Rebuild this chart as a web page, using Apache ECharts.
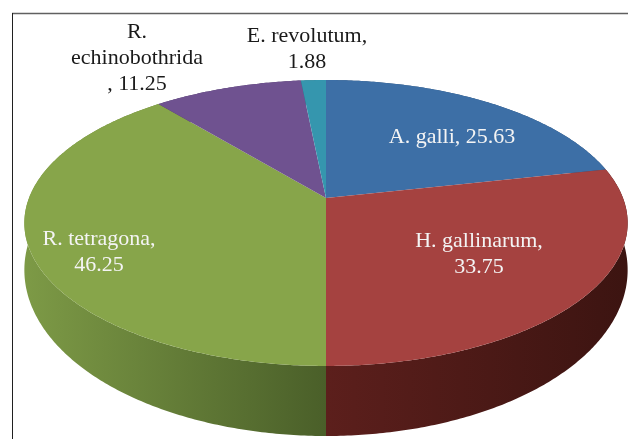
<!DOCTYPE html>
<html>
<head>
<meta charset="utf-8">
<style>
  html, body { margin: 0; padding: 0; background: #fff; }
  #main { width: 628px; height: 439px; filter: blur(0.5px); }
</style>
<script src="https://cdn.jsdelivr.net/npm/echarts@6/dist/echarts.min.js"></script>
</head>
<body>
<div id="main"></div>
<script>
// 数据
const names = ['A. galli', 'H. gallinarum', 'R. tetragona', 'R. echinobothrida', 'E. revolutum']
const values = [25.63, 33.75, 46.25, 11.25, 1.88]

const faceColors = ['#3d6fa6', '#a54240', '#87a54a', '#6f5290', '#3596ae']
// side wall gradient, left to right. only the two front slices are really seen
const wallColors = [
  ['#2a4d75', '#2a4d75'],
  ['#5c1f1c', '#3c1411'],
  ['#7d9a46', '#4a5f29'],
  ['#4d3965', '#4d3965'],
  ['#256a7a', '#256a7a']
]

// label place and line breaks, one per slice
const labelLayout = [
  { x: 452, y: 137, fill: '#f4f4f4', text: (n, v) => n + ', ' + v },
  { x: 479, y: 254, fill: '#f4f4f4', text: (n, v) => n + ',\n' + v },
  { x: 99, y: 252, fill: '#f4f4f4', text: (n, v) => n + ',\n' + v },
  { x: 137, y: 58, fill: '#1a1a1a', text: (n, v) => n.replace(' ', '\n') + '\n, ' + v },
  { x: 307, y: 49, fill: '#1a1a1a', text: (n, v) => n + ',\n' + v }
]

// perspective disc: top face and bottom rim of the pie
const topDisc = { cx: 326, cy: 198, a: 138.6, b: 297, k: -0.1748 }
const bottomDisc = { cx: 326, cy: 241, a: 160.9, b: 297, k: -0.1748 }

const total = values.reduce((s, v) => s + v, 0)

function sliceAngles(i) {
  let before = 0
  for (let j = 0; j < i; j++) before += values[j]
  return [before / total * Math.PI * 2, (before + values[i]) / total * Math.PI * 2]
}

// angle is clockwise from 12 o'clock
function project(disc, angle, r) {
  let x = Math.sin(angle) * r
  let y = -Math.cos(angle) * r
  let d = 1 + disc.k * y
  return [disc.cx + disc.b * x / d, disc.cy + disc.a * y / d]
}

function arcPoints(disc, start, end) {
  let pts = []
  let steps = Math.max(2, Math.ceil((end - start) / 0.01))
  for (let s = 0; s <= steps; s++) {
    pts.push(project(disc, start + (end - start) * s / steps, 1))
  }
  return pts
}

function renderWall(params) {
  let [start, end] = sliceAngles(params.dataIndex)
  let pts = arcPoints(topDisc, start, end).concat(arcPoints(bottomDisc, start, end).reverse())
  let c = wallColors[params.dataIndex]
  return {
    type: 'polygon',
    shape: { points: pts },
    style: {
      fill: new echarts.graphic.LinearGradient(0, 0, 1, 0, [
        { offset: 0, color: c[0] },
        { offset: 1, color: c[1] }
      ])
    }
  }
}

function renderFace(params) {
  let [start, end] = sliceAngles(params.dataIndex)
  let pts = [project(topDisc, 0, 0)].concat(arcPoints(topDisc, start, end))
  return {
    type: 'polygon',
    shape: { points: pts },
    style: { fill: faceColors[params.dataIndex] }
  }
}

function renderLabel(params, api) {
  let i = params.dataIndex
  let l = labelLayout[i]
  return {
    type: 'text',
    x: l.x,
    y: l.y,
    style: {
      text: l.text(names[i], api.value(0).toFixed(2)),
      fill: l.fill,
      font: '22px "Liberation Serif", serif',
      lineHeight: 26,
      align: 'center',
      verticalAlign: 'middle'
    }
  }
}

function pieSeries(render) {
  return {
    type: 'custom',
    coordinateSystem: 'none',
    silent: true,
    renderItem: render,
    data: values
  }
}

let myChart = echarts.init(document.getElementById('main'), null, { renderer: 'canvas' })
let option = {
  animation: false,
  backgroundColor: '#ffffff',
  graphic: [
    { type: 'line', shape: { x1: 12, y1: 13.5, x2: 628, y2: 13.5 }, style: { stroke: '#606060', lineWidth: 1.5 } },
    { type: 'line', shape: { x1: 12.5, y1: 13, x2: 12.5, y2: 439 }, style: { stroke: '#202020', lineWidth: 1 } }
  ],
  series: [pieSeries(renderWall), pieSeries(renderFace), pieSeries(renderLabel)]
}
myChart.setOption(option)
</script>
</body>
</html>
